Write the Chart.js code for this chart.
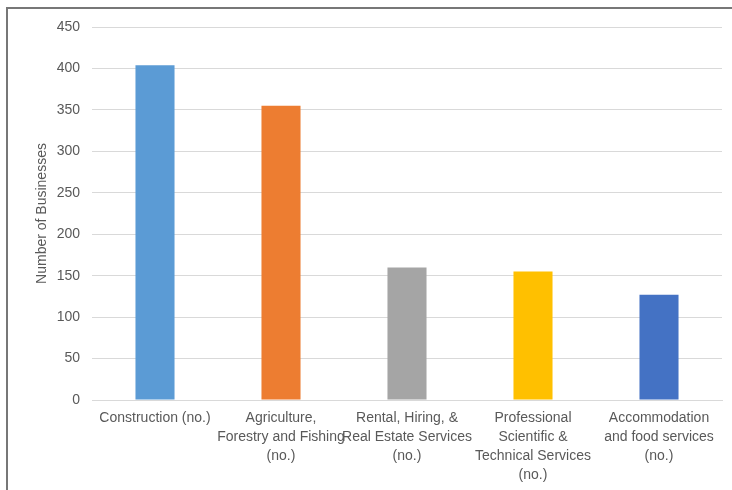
<!DOCTYPE html>
<html>
<head>
<meta charset="utf-8">
<script src="https://cdn.jsdelivr.net/npm/chart.js@4.4.1/dist/chart.umd.min.js"></script>
<style>
  html, body { margin: 0; padding: 0; background: #fff; }
  body { width: 732px; height: 490px; overflow: hidden; position: relative; }
  #frame {
    position: absolute; left: 6px; top: 7px; width: 800px; height: 600px;
    border-top: 2px solid #777; border-left: 2px solid #777;
  }
  #wrap { position: absolute; left: 0; top: 0; width: 732px; height: 490px; }
</style>
</head>
<body>
<div id="frame"></div>
<div id="wrap"><canvas id="businessChart" width="732" height="490"></canvas></div>
<script>
// Businesses by industry
const categories = [
  ['Construction (no.)'],
  ['Agriculture,', 'Forestry and Fishing', '(no.)'],
  ['Rental, Hiring, &', 'Real Estate Services', '(no.)'],
  ['Professional', 'Scientific &', 'Technical Services', '(no.)'],
  ['Accommodation', 'and food services', '(no.)']
];
const businessCounts = [404, 355, 160, 155, 127];
const barColors = ['#5B9BD5', '#ED7D31', '#A5A5A5', '#FFC000', '#4472C4'];
const yTicks = [0, 50, 100, 150, 200, 250, 300, 350, 400, 450];

const textColor = '#595959';
const gridColor = '#d9d9d9';
const font = { family: '"Liberation Sans", Arial, sans-serif', size: 14 };

new Chart(document.getElementById('businessChart'), {
  type: 'bar',
  data: {
    labels: categories,
    datasets: [{
      data: businessCounts,
      backgroundColor: barColors,
      borderWidth: 0,
      barPercentage: 0.31,
      categoryPercentage: 1
    }]
  },
  options: {
    responsive: false,
    animation: false,
    layout: { padding: { left: 30, top: 27, right: 10, bottom: 0 } },
    plugins: {
      legend: { display: false },
      tooltip: { enabled: false }
    },
    scales: {
      x: {
        grid: { display: false, drawTicks: false },
        border: { display: true, color: gridColor, width: 1 },
        ticks: {
          color: textColor,
          font: { ...font, lineHeight: 1.36 },
          padding: 9,
          maxRotation: 0,
          autoSkip: false
        },
        afterFit: (scale) => { scale.height = 90; }
      },
      y: {
        min: 0,
        max: 450,
        afterBuildTicks: (scale) => { scale.ticks = yTicks.map(v => ({ value: v })); },
        grid: { color: gridColor, drawTicks: false },
        border: { display: false },
        ticks: { color: textColor, font: font, padding: 12 },
        title: {
          display: true,
          text: 'Number of Businesses',
          color: textColor,
          font: font
        },
        afterFit: (scale) => { scale.width = 62; }
      }
    }
  }
});
</script>
</body>
</html>
